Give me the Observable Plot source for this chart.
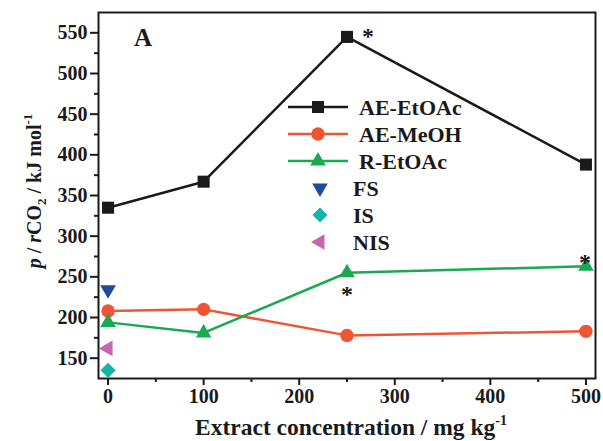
<!DOCTYPE html>
<html>
<head>
<meta charset="utf-8">
<script src="https://cdn.jsdelivr.net/npm/d3@7"></script>
<script src="https://cdn.jsdelivr.net/npm/@observablehq/plot@0.6"></script>
<style>
  body { margin: 0; background: #fff; }
  #chart { position: relative; width: 603px; height: 441px; }
</style>
</head>
<body>
<div id="chart"></div>
<script>
// ---- data ----
const conc = [0, 100, 250, 500];
const aeEtOAc = [335, 367, 545, 388];
const aeMeOH = [208, 210, 178, 183];
const rEtOAc = [194, 181, 255, 263];
const fsX = [0], fsY = [234];
const isX = [0], isY = [135];
const nisX = [0], nisY = [162];
const xMajor = [0, 100, 200, 300, 400, 500];
const xMinor = [50, 150, 250, 350, 450];
const yMajor = [150, 200, 250, 300, 350, 400, 450, 500, 550];
const yMinor = [175, 225, 275, 325, 375, 425, 475, 525];
const stars = [{x: 250, y: 545}, {x: 250, y: 255}, {x: 500, y: 263}];

const toRows = (xs, ys) => xs.map((x, i) => ({x, y: ys[i]}));
const s1 = toRows(conc, aeEtOAc), s2 = toRows(conc, aeMeOH), s3 = toRows(conc, rEtOAc);
const fs = toRows(fsX, fsY), is = toRows(isX, isY), nis = toRows(nisX, nisY);

const C = {black: "#1a1a1a", red: "#ef5533", green: "#1aa950", blue: "#1c4c9c", teal: "#13b5a9", pink: "#c765ad"};

// custom symbols
const sqrt3 = Math.sqrt(3);
const triDown = {draw(ctx, size) { const y = -Math.sqrt(size / (sqrt3 * 3)); ctx.moveTo(0, -y * 2); ctx.lineTo(-sqrt3 * y, y); ctx.lineTo(sqrt3 * y, y); ctx.closePath(); }};
const triLeft = {draw(ctx, size) { const y = -Math.sqrt(size / (sqrt3 * 3)); ctx.moveTo(y * 2, 0); ctx.lineTo(-y, -sqrt3 * y); ctx.lineTo(-y, sqrt3 * y); ctx.closePath(); }};

const font = "'Liberation Serif', 'DejaVu Serif', serif";

const plot = Plot.plot({
  width: 603, height: 441,
  marginLeft: 98, marginRight: 8, marginTop: 12, marginBottom: 63,
  style: {fontFamily: font, fontSize: "20px", fontWeight: "bold", color: "#1a1a1a", background: "#fff"},
  x: {domain: [-10, 510]},
  y: {domain: [125, 575]},
  marks: [
    Plot.axisX({ticks: xMinor, tickSize: 4, text: null, strokeWidth: 2, label: null}),
    Plot.axisX({ticks: xMajor, tickSize: 7, tickPadding: 3, strokeWidth: 2, label: null}),
    Plot.axisY({ticks: yMinor, tickSize: 4, text: null, strokeWidth: 2, label: null}),
    Plot.axisY({ticks: yMajor, tickSize: 8, tickPadding: 3, strokeWidth: 2, label: null}),
    Plot.frame({stroke: "#1a1a1a", strokeWidth: 2}),
    Plot.line(s1, {x: "x", y: "y", stroke: C.black, strokeWidth: 2.5}),
    Plot.line(s2, {x: "x", y: "y", stroke: C.red, strokeWidth: 2.5}),
    Plot.line(s3, {x: "x", y: "y", stroke: C.green, strokeWidth: 2.5}),
    Plot.dot(s1, {x: "x", y: "y", symbol: "square", r: 6.8, fill: C.black}),
    Plot.dot(s2, {x: "x", y: "y", symbol: "circle", r: 6.7, fill: C.red}),
    Plot.dot(s3, {x: "x", y: "y", symbol: "triangle", r: 5.8, fill: C.green}),
    Plot.dot(fs, {x: "x", y: "y", symbol: triDown, r: 5.8, fill: C.blue}),
    Plot.dot(is, {x: "x", y: "y", symbol: "diamond2", r: 6.8, fill: C.teal}),
    Plot.dot(nis, {x: "x", y: "y", symbol: triLeft, r: 5.8, fill: C.pink}),
    Plot.text(stars.slice(0, 1), {x: "x", y: "y", text: () => "*", dx: 21, dy: -1, fontSize: 24, fill: C.black}),
    Plot.text(stars.slice(1, 2), {x: "x", y: "y", text: () => "*", dx: 0, dy: 22, fontSize: 24, fill: C.black}),
    Plot.text(stars.slice(2, 3), {x: "x", y: "y", text: () => "*", dx: -1, dy: -4, fontSize: 24, fill: C.black})
  ]
});
document.getElementById("chart").appendChild(plot);

// ---- annotations: axis titles, panel letter, legend ----
const svg = d3.select(plot);
const g = svg.append("g").attr("font-family", font).attr("font-weight", "bold").attr("fill", "#1a1a1a");

// panel letter
g.append("text").attr("x", 143).attr("y", 46).attr("text-anchor", "middle").attr("font-size", 25).text("A");

// x axis title
const xt = g.append("text").attr("x", 351).attr("y", 435).attr("text-anchor", "middle").attr("font-size", 23.5);
xt.append("tspan").text("Extract concentration / mg kg");
xt.append("tspan").attr("font-size", 14).attr("dy", -10).text("-1");

// y axis title
const yt = g.append("text").attr("transform", "translate(41,191) rotate(-90)").attr("text-anchor", "middle").attr("font-size", 20);
yt.append("tspan").attr("font-style", "italic").text("p");
yt.append("tspan").text(" / ");
yt.append("tspan").attr("font-style", "italic").text("r");
yt.append("tspan").text("CO");
yt.append("tspan").attr("font-size", 13).attr("dy", 5).text("2");
yt.append("tspan").attr("dy", -5).text(" / kJ mol");
yt.append("tspan").attr("font-size", 13).attr("dy", -9).text("-1");

// legend
const legend = [
  {label: "AE-EtOAc", color: C.black, sym: d3.symbolSquare, r: 6.8, line: true, y: 107},
  {label: "AE-MeOH", color: C.red, sym: d3.symbolCircle, r: 6.7, line: true, y: 134},
  {label: "R-EtOAc", color: C.green, sym: d3.symbolTriangle, r: 5.8, line: true, y: 161},
  {label: "FS", color: C.blue, sym: triDown, r: 5.8, line: false, y: 188},
  {label: "IS", color: C.teal, sym: d3.symbolDiamond2, r: 6.8, line: false, y: 215},
  {label: "NIS", color: C.pink, sym: triLeft, r: 5.8, line: false, y: 242}
];
const lg = g.append("g").attr("text-anchor", "start");
legend.forEach(d => {
  if (d.line) lg.append("line").attr("x1", 288).attr("x2", 348).attr("y1", d.y).attr("y2", d.y).attr("stroke", d.color).attr("stroke-width", 2.5);
  const cx = d.line ? 318 : 320;
  lg.append("path").attr("d", d3.symbol(d.sym, Math.PI * d.r * d.r)()).attr("transform", `translate(${cx},${d.y})`).attr("fill", d.color);
  lg.append("text").attr("x", d.line ? 359 : 353).attr("y", d.y).attr("dy", "0.35em").attr("text-anchor", "start").attr("font-size", 22).text(d.label);
});
</script>
</body>
</html>
